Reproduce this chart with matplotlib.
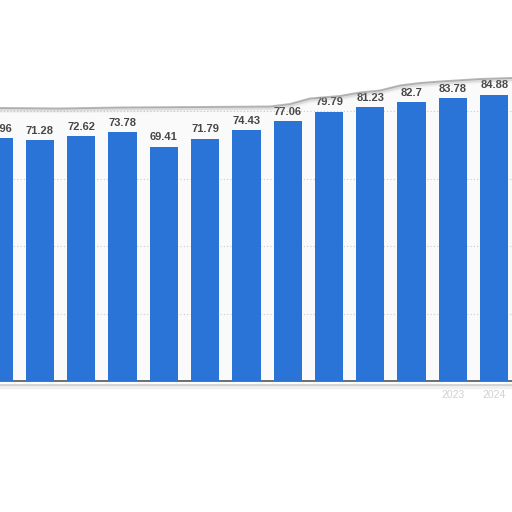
import matplotlib
matplotlib.use("Agg")
import matplotlib.pyplot as plt
from matplotlib.patches import Polygon
import numpy as np

years = ["2012", "2013", "2014", "2015", "2016", "2017", "2018",
         "2019", "2020", "2021", "2022", "2023", "2024"]
values = [71.96, 71.28, 72.62, 73.78, 69.41, 71.79, 74.43,
          77.06, 79.79, 81.23, 82.7, 83.78, 84.88]
grid_ticks = [20, 40, 60, 80]
visible_tick_labels = {"2023": "2023", "2024": "2024"}

W = H = 512
fig = plt.figure(figsize=(5.12, 5.12), dpi=100)
fig.patch.set_facecolor("white")

base_px = 381.0
px_per_unit = 3.375
ax = fig.add_axes([0, 1 - base_px / H, 1, base_px / H])
ax.set_facecolor("#fafafa")

x = np.arange(len(years))
spacing = 41.29
left = 1 - 40.0 / spacing
ax.set_xlim(left, left + W / spacing)
ax.set_ylim(0, base_px / px_per_unit)

ax.bar(x, values, width=0.685, color="#2a74d8", zorder=3)
for xi, v in zip(x, values):
    ax.annotate(f"{v:g}", (xi, v), xytext=(0, 4.5), textcoords="offset points",
                ha="center", va="baseline", fontsize=8, fontweight="bold",
                family=["Liberation Sans", "DejaVu Sans"], color="#474747",
                zorder=12, annotation_clip=False)

ax.set_yticks(grid_ticks)
ax.yaxis.grid(True, linestyle=(0, (1, 2)), color="#cccccc", linewidth=0.8, zorder=1)
ax.tick_params(left=False, labelleft=False, bottom=False, labelbottom=False)
for s in ["top", "right", "left"]:
    ax.spines[s].set_visible(False)
ax.spines["bottom"].set_color("#555555")
ax.spines["bottom"].set_linewidth(1.2)

# faint, torn-off tick labels
for xi, yr in zip(x, years):
    if yr in visible_tick_labels:
        ax.text(xi, -14 / px_per_unit, visible_tick_labels[yr], ha="center", va="center",
                fontsize=7.5, color="#d0d0d0", family=["Liberation Sans", "DejaVu Sans"],
                clip_on=False)

# torn paper edge at the top
tear = [(0, 108), (60, 108.5), (120, 107.5), (200, 107), (270, 106.5), (290, 104),
        (310, 98.5), (340, 96), (360, 92.5), (380, 90.5), (400, 85.5), (420, 83),
        (440, 81.5), (480, 79), (512, 78)]
tx = [p[0] / W for p in tear]
ty = [1 - p[1] / H for p in tear]
poly = Polygon([(tx[0], 1.01)] + list(zip(tx, ty)) + [(tx[-1], 1.01)],
               closed=True, transform=fig.transFigure, facecolor="white",
               edgecolor="none", zorder=10)
fig.add_artist(poly)
for off, lw, a in [(0.0, 1.4, 0.6), (1.5, 2.2, 0.2), (3.0, 2.5, 0.08)]:
    fig.add_artist(plt.Line2D(tx, [t - off / H for t in ty], transform=fig.transFigure,
                              color="#888888", linewidth=lw, alpha=a, zorder=11))

# torn edge at the bottom
by = 1 - 384.5 / H
for off, lw, a in [(0.0, 1.5, 0.35), (2.0, 2.5, 0.12)]:
    fig.add_artist(plt.Line2D([0, 1], [by - off / H] * 2, transform=fig.transFigure,
                              color="#888888", linewidth=lw, alpha=a, zorder=11))

fig.savefig("out.png", dpi=100, facecolor="white")
